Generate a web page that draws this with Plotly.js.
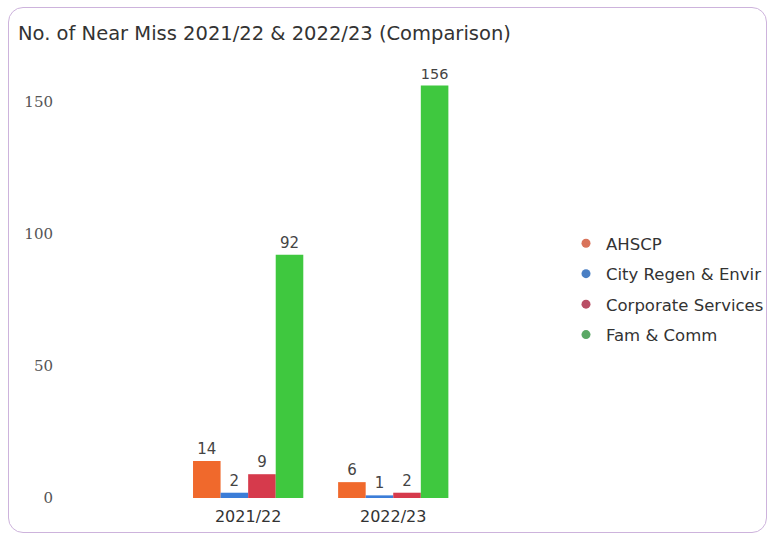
<!DOCTYPE html>
<html>
<head>
<meta charset="utf-8">
<script src="https://cdn.plot.ly/plotly-3.0.1.min.js"></script>
<style>
  html, body { margin: 0; padding: 0; background: #fff; }
  #wrap { position: relative; width: 771px; height: 540px; }
  #card { position: absolute; left: 8px; top: 7px; width: 757px; height: 524px;
          border: 1.5px solid #cdb3dc; border-radius: 15px; pointer-events: none; }
</style>
</head>
<body>
<div id="wrap">
  <div id="nearmiss" style="width:771px;height:540px;"></div>
  <div id="card"></div>
</div>
<script>
var years = ['2021/22', '2022/23'];
var services = ['AHSCP', 'City Regen & Envir', 'Corporate Services', 'Fam & Comm'];
var ahscp = [14, 6];
var cityRegen = [2, 1];
var corporate = [9, 2];
var famComm = [92, 156];

var barColours = ['#f0692c', '#3b7dd8', '#d63a4c', '#3fc83f'];
var dotColours = ['#d9735a', '#4a7fc4', '#b94f66', '#5aa865'];
var values = [ahscp, cityRegen, corporate, famComm];

var data = [];
for (var i = 0; i < services.length; i++) {
    data.push({
        type: 'bar',
        name: services[i],
        x: years,
        y: values[i],
        text: values[i].map(String),
        textposition: 'outside',
        cliponaxis: false,
        textfont: { family: 'DejaVu Sans, sans-serif', size: 15, color: '#444' },
        marker: { color: barColours[i] },
        legendgroup: services[i],
        showlegend: false,
        hoverinfo: 'x+y+name'
    });
}
// legend entries with round markers
for (var j = 0; j < services.length; j++) {
    data.push({
        type: 'scatter',
        mode: 'markers',
        name: services[j],
        x: [null],
        y: [null],
        marker: { color: dotColours[j], size: 9, symbol: 'circle' },
        legendgroup: services[j],
        hoverinfo: 'skip'
    });
}

var layout = {
    width: 771,
    height: 540,
    margin: { l: 62, r: 310, t: 75, b: 42 },
    paper_bgcolor: 'rgba(0,0,0,0)',
    plot_bgcolor: 'rgba(0,0,0,0)',
    barmode: 'group',
    bargap: 0.24,
    bargroupgap: 0,
    title: {
        text: 'No. of Near Miss 2021/22 & 2022/23 (Comparison)',
        font: { family: 'DejaVu Sans, sans-serif', size: 19.5, color: '#333' },
        xref: 'container', yref: 'container',
        x: 18 / 771, xanchor: 'left',
        y: 1 - 33 / 540, yanchor: 'middle'
    },
    xaxis: {
        type: 'category',
        range: [-1.283, 1.467],
        showgrid: false,
        zeroline: false,
        showline: false,
        ticks: '',
        ticklabelstandoff: 7,
        tickfont: { family: 'DejaVu Sans, sans-serif', size: 16, color: '#333' }
    },
    yaxis: {
        range: [0, 160],
        tickvals: [0, 50, 100, 150],
        showgrid: false,
        zeroline: false,
        showline: false,
        ticks: '',
        ticklabelstandoff: 8,
        tickfont: { family: 'DejaVu Serif, serif', size: 15, color: '#555' }
    },
    showlegend: true,
    legend: {
        xref: 'container', yref: 'container',
        x: 566 / 771, xanchor: 'left',
        y: 1 - 289 / 540, yanchor: 'middle',
        itemclick: false,
        tracegroupgap: 6,
        font: { family: 'DejaVu Sans, sans-serif', size: 16.5, color: '#333' },
        bgcolor: 'rgba(0,0,0,0)'
    }
};

Plotly.newPlot('nearmiss', data, layout, { displayModeBar: false, staticPlot: true });
</script>
</body>
</html>
